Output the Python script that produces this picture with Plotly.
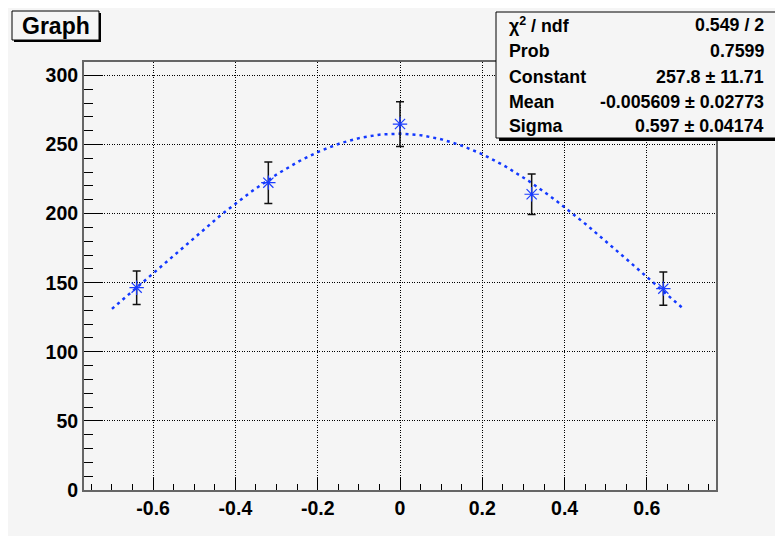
import numpy as np
import plotly.graph_objects as go

# ---- data ----
x_vals = [-0.64, -0.32, 0.0, 0.32, 0.64]
y_vals = [146.4, 222.4, 264.8, 214.0, 145.7]
y_errs = [12.1, 15.0, 16.2, 14.7, 12.1]

# fit parameters shown in the stats box (gaussian)
fit_const = 257.8
fit_mean = -0.005609
fit_sigma = 0.597
fit_range = [-0.70, 0.69]

stat_labels = ["χ<sup>2</sup> / ndf", "Prob", "Constant", "Mean", "Sigma"]
stat_values = ["0.549 / 2", "0.7599", "257.8 ± 11.71", "-0.005609 ± 0.02773", "0.597 ± 0.04174"]

x_ticks = [-0.6, -0.4, -0.2, 0, 0.2, 0.4, 0.6]
x_ticklabels = ["-0.6", "-0.4", "-0.2", "0", "0.2", "0.4", "0.6"]
y_ticks = [0, 50, 100, 150, 200, 250, 300]

# ---- layout geometry (page pixels; the page body adds an 8px offset) ----
OFF = 8
W, H = 783 - OFF, 536 - OFF
L, R, T, B = 84 - OFF, 716 - OFF, 62 - OFF, 490 - OFF
PW, PH = R - L, B - T


def px(x):
    return (x - OFF - L) / PW


def py(y):
    return (B - (y - OFF)) / PH


fit_x = np.linspace(fit_range[0], fit_range[1], 200)
fit_y = fit_const * np.exp(-0.5 * ((fit_x - fit_mean) / fit_sigma) ** 2)

fig = go.Figure()
fig.add_trace(go.Scatter(
    x=fit_x, y=fit_y, mode="lines",
    line=dict(color="#1238ff", width=2.5, dash="3px,4px"),
    hoverinfo="skip", showlegend=False,
))
fig.add_trace(go.Scatter(
    x=x_vals, y=y_vals, mode="markers",
    marker=dict(symbol="asterisk-open", size=12, color="#1a3cff",
                line=dict(color="#1a3cff", width=1.2)),
    error_y=dict(type="data", array=y_errs, visible=True,
                 color="#111111", thickness=1.5, width=4),
    showlegend=False,
))

font_tick = dict(family="Liberation Sans, Arial, sans-serif", size=19.5,
                 color="black", weight="bold")

fig.update_xaxes(
    range=[-0.768, 0.768], tickvals=x_ticks, ticktext=x_ticklabels,
    ticks="inside", ticklen=12, tickwidth=1.3, tickcolor="black",
    minor=dict(dtick=0.05, tick0=0, ticks="inside", ticklen=6, tickwidth=1.3,
               tickcolor="black", showgrid=False),
    showgrid=True, gridcolor="#000000", gridwidth=1, griddash="1px,1.5px",
    showline=True, linecolor="#666666", linewidth=2, mirror=True,
    zeroline=False, tickfont=font_tick,
)
fig.update_yaxes(
    range=[0, 309.7], tickvals=y_ticks,
    ticks="inside", ticklen=18, tickwidth=1.3, tickcolor="black",
    minor=dict(dtick=10, tick0=0, ticks="inside", ticklen=9, tickwidth=1.3,
               tickcolor="black", showgrid=False),
    showgrid=True, gridcolor="#000000", gridwidth=1, griddash="1px,1.5px",
    showline=True, linecolor="#666666", linewidth=2, mirror=True,
    zeroline=False, tickfont=font_tick,
)

shapes = []
# canvas background (white border at top/left)
shapes.append(dict(type="rect", xref="paper", yref="paper",
                   x0=px(7), x1=px(790), y0=py(10), y1=py(540),
                   fillcolor="#f5f5f5", line=dict(width=0), layer="below"))
# title box
shapes.append(dict(type="rect", xref="paper", yref="paper",
                   x0=px(14), x1=px(101), y0=py(13), y1=py(42),
                   fillcolor="black", line=dict(width=0), layer="above"))
shapes.append(dict(type="rect", xref="paper", yref="paper",
                   x0=px(12), x1=px(99), y0=py(11), y1=py(40),
                   fillcolor="#f5f5f5", line=dict(color="black", width=1), layer="above"))
# stats box
shapes.append(dict(type="rect", xref="paper", yref="paper",
                   x0=px(499), x1=px(780), y0=py(15), y1=py(141),
                   fillcolor="black", line=dict(width=0), layer="above"))
shapes.append(dict(type="rect", xref="paper", yref="paper",
                   x0=px(496), x1=px(777), y0=py(12), y1=py(138),
                   fillcolor="#f5f5f5", line=dict(color="black", width=1), layer="above"))

annotations = [dict(text="<b>Graph</b>", xref="paper", yref="paper",
                    x=px(55.5), y=py(26), xanchor="center", yanchor="middle",
                    showarrow=False,
                    font=dict(family="Liberation Sans, Arial, sans-serif", size=23, color="black"))]

row_y = [25.5, 51, 76.5, 101.5, 126.5]
stat_font = dict(family="Liberation Sans, Arial, sans-serif", size=17.8, color="black")
for lab, val, yy in zip(stat_labels, stat_values, row_y):
    annotations.append(dict(text="<b>" + lab + "</b>", xref="paper", yref="paper",
                            x=px(507), y=py(yy), xanchor="left", yanchor="middle",
                            showarrow=False, font=stat_font))
    annotations.append(dict(text="<b>" + val + "</b>", xref="paper", yref="paper",
                            x=px(766), y=py(yy), xanchor="right", yanchor="middle",
                            showarrow=False, font=stat_font))

fig.update_layout(
    width=W, height=H,
    margin=dict(l=L, r=W - R, t=T, b=H - B, pad=0),
    paper_bgcolor="#f5f5f5", plot_bgcolor="#f5f5f5",
    shapes=shapes, annotations=annotations,
    showlegend=False,
)

fig.write_html("out.html")
